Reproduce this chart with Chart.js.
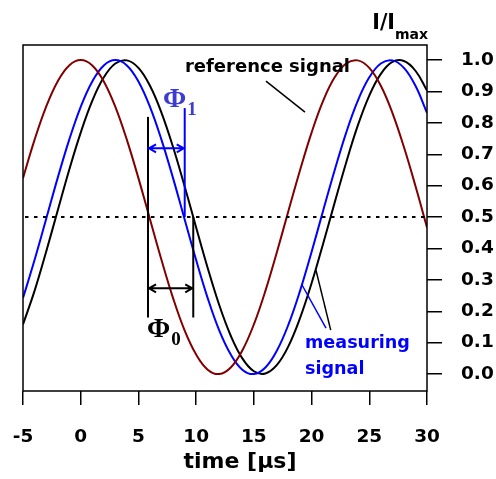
<!DOCTYPE html>
<html>
<head>
<meta charset="utf-8">
<script src="https://cdn.jsdelivr.net/npm/chart.js@4.4.0/dist/chart.umd.min.js"></script>
<style>
  html, body { margin: 0; padding: 0; background: #fff; }
  #wrap { width: 496px; height: 479px; }
</style>
</head>
<body>
<div id="wrap"><canvas id="chart" width="496" height="479"></canvas></div>
<script>
// time axis (µs)
const timeUs = [-5, -4, -3, -2, -1, 0, 1, 2, 3, 4, 5, 6, 7, 8, 9, 10, 11, 12,
  13, 14, 15, 16, 17, 18, 19, 20, 21, 22, 23, 24, 25, 26, 27, 28, 29, 30];

// reference signal (dark red)
const referenceSignal = [0.624, 0.746, 0.851, 0.932, 0.983, 1.000, 0.983, 0.932, 0.851, 0.746,
  0.624, 0.493, 0.363, 0.242, 0.139, 0.062, 0.014, 0.000, 0.021, 0.075,
  0.158, 0.265, 0.389, 0.520, 0.649, 0.769, 0.870, 0.945, 0.989, 0.999,
  0.975, 0.918, 0.832, 0.723, 0.599, 0.467];

// measuring signal, blue
const measuringBlue = [0.242, 0.363, 0.493, 0.624, 0.746, 0.851, 0.932, 0.983, 1.000, 0.983,
  0.932, 0.851, 0.746, 0.624, 0.493, 0.363, 0.242, 0.139, 0.062, 0.014,
  0.000, 0.021, 0.075, 0.158, 0.265, 0.389, 0.520, 0.649, 0.769, 0.870,
  0.945, 0.989, 0.999, 0.975, 0.918, 0.832];

// measuring signal, black
const measuringBlack = [0.158, 0.265, 0.389, 0.520, 0.650, 0.769, 0.870, 0.945, 0.989, 0.999,
  0.975, 0.918, 0.832, 0.723, 0.598, 0.467, 0.338, 0.220, 0.122, 0.050,
  0.009, 0.002, 0.029, 0.089, 0.178, 0.289, 0.415, 0.546, 0.674, 0.791,
  0.887, 0.956, 0.994, 0.997, 0.966, 0.903];

const xTicks = [-5, 0, 5, 10, 15, 20, 25, 30];
const yTicks = [0, 0.1, 0.2, 0.3, 0.4, 0.5, 0.6, 0.7, 0.8, 0.9, 1.0];

// phase markers (data coordinates)
const halfLevel = 0.5;
const phiStart = 5.83;      // reference crosses 0.5
const phi1End = 9.01;       // blue crosses 0.5
const phi0End = 9.75;       // black crosses 0.5
const phi1ArrowY = 0.719;
const phi0ArrowY = 0.273;

const toPts = (ys) => ys.map((y, i) => ({ x: timeUs[i], y: y }));

const FONT = '"DejaVu Sans", Verdana, sans-serif';
const SERIF = '"Liberation Serif", "Times New Roman", serif';

const annotations = {
  id: 'annotations',
  afterDatasetsDraw(chart) {
    const { ctx, chartArea, scales: { x, y } } = chart;
    const px = v => x.getPixelForValue(v);
    const py = v => y.getPixelForValue(v);

    ctx.save();

    // dotted 0.5 line
    ctx.strokeStyle = '#000';
    ctx.lineWidth = 2;
    ctx.setLineDash([3.5, 5.5]);
    ctx.beginPath();
    ctx.moveTo(chartArea.left + 2, py(halfLevel));
    ctx.lineTo(chartArea.right, py(halfLevel));
    ctx.stroke();
    ctx.setLineDash([]);

    const line = (x1, y1, x2, y2, color, w) => {
      ctx.strokeStyle = color;
      ctx.lineWidth = w || 2;
      ctx.beginPath();
      ctx.moveTo(px(x1), py(y1));
      ctx.lineTo(px(x2), py(y2));
      ctx.stroke();
    };

    const dblArrow = (x1, x2, yv, color) => {
      const a = px(x1), b = px(x2), yy = py(yv);
      ctx.strokeStyle = color;
      ctx.lineWidth = 2;
      ctx.beginPath();
      ctx.moveTo(a, yy); ctx.lineTo(b, yy);
      ctx.moveTo(a + 8, yy - 4); ctx.lineTo(a + 1, yy); ctx.lineTo(a + 8, yy + 4);
      ctx.moveTo(b - 8, yy - 4); ctx.lineTo(b - 1, yy); ctx.lineTo(b - 8, yy + 4);
      ctx.stroke();
    };

    // Φ0 markers
    line(phiStart, 0.819, phiStart, 0.18, '#000', 2);
    line(phi0End, halfLevel, phi0End, 0.18, '#000', 2);
    dblArrow(phiStart, phi0End, phi0ArrowY, '#000');

    // Φ1 markers
    line(phi1End, 0.847, phi1End, halfLevel, '#0000ff', 2);
    dblArrow(phiStart, phi1End, phi1ArrowY, '#0000ff');

    // pointers
    line(16.05, 0.933, 19.43, 0.834, '#000', 1.5);
    line(19.14, 0.286, 21.25, 0.146, '#0000ff', 1.5);
    line(20.38, 0.331, 21.66, 0.140, '#000', 1.5);

    // labels
    ctx.textBaseline = 'alphabetic';
    ctx.textAlign = 'left';
    ctx.fillStyle = '#000';
    ctx.font = 'bold 18px ' + FONT;
    ctx.fillText('reference signal', px(9.03), py(0.963));

    ctx.fillStyle = '#0000ff';
    ctx.font = 'bold 17.6px ' + FONT;
    ctx.fillText('measuring', px(19.43), py(0.083));
    ctx.fillText('signal', px(19.43), py(0.0));

    const phi = (xv, yv, sub, color) => {
      ctx.fillStyle = color;
      ctx.font = 'bold 28px ' + SERIF;
      const x0 = px(xv), y0 = py(yv);
      ctx.fillText('Φ', x0, y0);
      const w = ctx.measureText('Φ').width;
      ctx.font = 'bold 19px ' + SERIF;
      ctx.fillText(sub, x0 + w + 1, y0 + 8);
    };
    phi(7.13, 0.85, '1', '#3c3cd2');
    phi(5.74, 0.118, '0', '#000');

    // I/Imax
    ctx.fillStyle = '#000';
    ctx.font = 'bold 20.5px ' + FONT;
    ctx.textAlign = 'right';
    ctx.fillText('I/I', 395, 29);
    ctx.textAlign = 'left';
    ctx.font = 'bold 14px ' + FONT;
    ctx.fillText('max', 395, 39);

    // time [µs]
    ctx.font = 'bold 22px ' + FONT;
    ctx.textAlign = 'center';
    ctx.fillText('time [µs]', 240, 468);

    // frame
    ctx.strokeStyle = '#000';
    ctx.lineWidth = 1.5;
    ctx.strokeRect(chartArea.left, chartArea.top, chartArea.right - chartArea.left, chartArea.bottom - chartArea.top);

    ctx.restore();
  }
};

const series = (data, color) => ({
  data: toPts(data),
  borderColor: color,
  borderWidth: 2,
  pointRadius: 0,
  tension: 0.4,
  fill: false
});

new Chart(document.getElementById('chart'), {
  type: 'line',
  data: {
    datasets: [
      series(referenceSignal, '#800000'),
      series(measuringBlue, '#0000ff'),
      series(measuringBlack, '#000000')
    ]
  },
  options: {
    responsive: false,
    animation: false,
    events: [],
    layout: { padding: { left: 23, top: 45, right: 0, bottom: 0 } },
    plugins: { legend: { display: false }, tooltip: { enabled: false } },
    scales: {
      x: {
        type: 'linear',
        min: -5,
        max: 30,
        afterBuildTicks: s => { s.ticks = xTicks.map(v => ({ value: v })); },
        afterFit: s => { s.height = 88; s.paddingLeft = 0; s.paddingRight = 0; },
        grid: { drawOnChartArea: false, drawTicks: true, tickLength: 14, color: '#000', lineWidth: 1.5 },
        border: { display: false },
        ticks: { color: '#000', padding: 21, maxRotation: 0, font: { family: FONT, size: 18.5, weight: 'bold' } }
      },
      y: {
        type: 'linear',
        position: 'right',
        min: -0.054,
        max: 1.048,
        afterBuildTicks: s => { s.ticks = yTicks.map(v => ({ value: v })); },
        afterFit: s => { s.width = 69; s.paddingTop = 0; s.paddingBottom = 0; },
        grid: { drawOnChartArea: false, drawTicks: true, tickLength: 15, color: '#000', lineWidth: 1.5 },
        border: { display: false },
        ticks: { color: '#000', padding: 19, callback: v => v.toFixed(1), font: { family: FONT, size: 18.5, weight: 'bold' } }
      }
    }
  },
  plugins: [annotations]
});
</script>
</body>
</html>
